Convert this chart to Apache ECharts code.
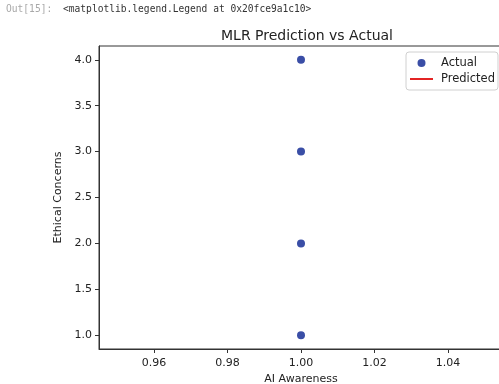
<!DOCTYPE html>
<html>
<head>
<meta charset="utf-8">
<script src="https://cdn.jsdelivr.net/npm/echarts@6/dist/echarts.min.js"></script>
<style>
html, body { margin: 0; padding: 0; background: #fff; }
#chart { width: 499px; height: 384px; }
</style>
</head>
<body>
<div id="chart"></div>
<script>
// data
var awareness = [1.00, 1.00, 1.00, 1.00];
var concerns = [4.0, 3.0, 2.0, 1.0];
var predicted = [];   // predicted line is not visible in the plot
var xTicks = [0.96, 0.98, 1.00, 1.02, 1.04];
var yTicks = [1.0, 1.5, 2.0, 2.5, 3.0, 3.5, 4.0];

var actualPts = [];
for (var i = 0; i < awareness.length; i++) {
    actualPts.push([awareness[i], concerns[i]]);
}

var dom = document.getElementById("chart");
var myChart = echarts.init(dom);
var font = 'DejaVu Sans';

var option = {
    backgroundColor: '#fff',
    animation: false,
    title: {
        text: 'MLR Prediction vs Actual',
        left: 302,
        top: 24,
        textAlign: 'center',
        textStyle: { fontFamily: font, fontSize: 14, fontWeight: 'normal', color: '#222' }
    },
    graphic: [
        {
            type: 'text', left: 6, top: 4,
            style: { text: 'Out[15]:', fontFamily: 'DejaVu Sans Mono', fontSize: 9.6, fill: '#a8a8a8' }
        },
        {
            type: 'text', left: 63, top: 4,
            style: { text: '<matplotlib.legend.Legend at 0x20fce9a1c10>', fontFamily: 'DejaVu Sans Mono', fontSize: 9.6, fill: '#333' }
        }
    ],
    legend: {
        left: 406,
        top: 52,
        orient: 'vertical',
        itemGap: 4,
        itemWidth: 23,
        itemHeight: 8,
        padding: [5, 3, 5, 4],
        borderColor: '#d0d0d0',
        borderWidth: 1,
        borderRadius: 3,
        backgroundColor: '#fff',
        textStyle: { fontFamily: font, fontSize: 11.5, color: '#222', padding: [0, 0, 0, 3] },
        data: [
            { name: 'Actual', icon: 'circle' },
            // plain red stroke, no marker
            { name: 'Predicted', icon: 'path://M0,0M0,3H23V5H0ZM23,8' }
        ]
    },
    grid: {
        left: 99,
        width: 404,
        top: 46,
        bottom: 35,
        outerBoundsMode: 'none',   // axes run past the right edge of the window
        show: true,
        borderColor: '#333',
        borderWidth: 1
    },
    xAxis: {
        type: 'value',
        min: 0.945,
        max: 1.055,
        name: 'AI Awareness',
        nameLocation: 'middle',
        nameGap: 22,
        nameTextStyle: { fontFamily: font, fontSize: 11, color: '#222' },
        axisLine: { show: true, onZero: false, lineStyle: { color: '#333' } },
        axisTick: { show: true, length: 4, customValues: xTicks, lineStyle: { color: '#333' } },
        axisLabel: {
            margin: 9,
            customValues: xTicks,
            fontFamily: font, fontSize: 11, color: '#222',
            formatter: function (v) { return v.toFixed(2); }
        },
        splitLine: { show: false }
    },
    yAxis: {
        type: 'value',
        min: 0.85,
        max: 4.15,
        name: 'Ethical Concerns',
        nameLocation: 'middle',
        nameGap: 29,
        nameTextStyle: { fontFamily: font, fontSize: 11, color: '#222' },
        axisLine: { show: true, onZero: false, lineStyle: { color: '#333' } },
        axisTick: { show: true, length: 4, customValues: yTicks, lineStyle: { color: '#333' } },
        axisLabel: {
            margin: 7,
            customValues: yTicks,
            fontFamily: font, fontSize: 11, color: '#222',
            formatter: function (v) { return v.toFixed(1); }
        },
        splitLine: { show: false }
    },
    series: [
        {
            name: 'Actual',
            type: 'scatter',
            symbolSize: 8,
            itemStyle: { color: '#3a4ea6', opacity: 1 },
            data: actualPts
        },
        {
            name: 'Predicted',
            type: 'line',
            symbol: 'none',
            lineStyle: { color: '#e32424', width: 2 },
            itemStyle: { color: '#e32424' },
            data: predicted
        }
    ]
};

myChart.setOption(option, true);
</script>
</body>
</html>
